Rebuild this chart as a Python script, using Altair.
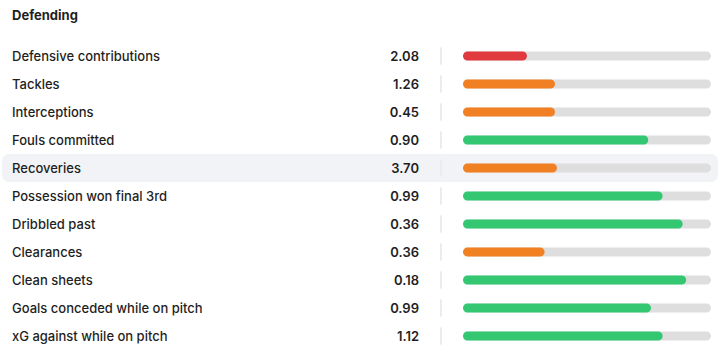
import altair as alt
import pandas as pd

title_text = "Defending"
stats = [
    "Defensive contributions", "Tackles", "Interceptions", "Fouls committed",
    "Recoveries", "Possession won final 3rd", "Dribbled past", "Clearances",
    "Clean sheets", "Goals conceded while on pitch", "xG against while on pitch",
]
values = ["2.08", "1.26", "0.45", "0.90", "3.70", "0.99", "0.36", "0.36", "0.18", "0.99", "1.12"]
percentiles = [0.258, 0.371, 0.371, 0.747, 0.379, 0.805, 0.886, 0.329, 0.90, 0.758, 0.805]
tiers = ["low", "mid", "mid", "high", "mid", "high", "high", "mid", "high", "high", "high"]
highlight = [False, False, False, False, True, False, False, False, False, False, False]

df = pd.DataFrame({
    "stat": stats, "value": values, "pct": percentiles, "tier": tiers,
    "hl": highlight, "zero": 0.0, "one": 1.0,
})

FONT = "Inter"
TXT = "#1f1f23"

y = alt.Y("stat:N", sort=stats, axis=None,
          scale=alt.Scale(domain=stats, range=[42, 350], paddingInner=0, paddingOuter=0))
xs = alt.Scale(domain=[0, 1], range=[463, 711])

base = alt.Chart(df)

hl_rect = base.transform_filter("datum.hl").mark_rect(
    color="#f2f3f6", cornerRadius=7
).encode(y=y, x=alt.value(2), x2=alt.value(718))

sep = base.mark_bar(height=17, color="#ececec").encode(
    y=y, x=alt.value(440), x2=alt.value(442))

track = base.mark_bar(height=9, cornerRadius=4.5, color="#dedede").encode(
    y=y, x=alt.X("zero:Q", scale=xs, axis=None), x2="one:Q")

fill = base.mark_bar(height=9, cornerRadius=4.5).encode(
    y=y, x=alt.X("zero:Q", scale=xs, axis=None), x2="pct:Q",
    color=alt.Color("tier:N", legend=None,
                    scale=alt.Scale(domain=["low", "mid", "high"],
                                    range=["#e0393e", "#f08022", "#33c771"])))

labels = base.mark_text(align="left", baseline="middle", font=FONT, fontSize=13,
                        fontWeight=500, color=TXT, dy=1).encode(
    y=y, x=alt.value(12), text="stat:N")

vals = base.mark_text(align="right", baseline="middle", font=FONT, fontSize=13,
                      fontWeight=600, color=TXT, dy=1).encode(
    y=y, x=alt.value(419), text="value:N")

title = alt.Chart(pd.DataFrame({"t": [title_text]})).mark_text(
    align="left", baseline="middle", font=FONT, fontSize=13, fontWeight=700, color=TXT
).encode(text="t:N", x=alt.value(12), y=alt.value(16))

chart = alt.layer(hl_rect, sep, track, fill, labels, vals, title).properties(
    width=720, height=358, padding=0, autosize=alt.AutoSizeParams(type="none"),
    background="white",
).configure_view(stroke=None)

chart.save("out.html", embed_options={"renderer": "svg", "actions": False})
